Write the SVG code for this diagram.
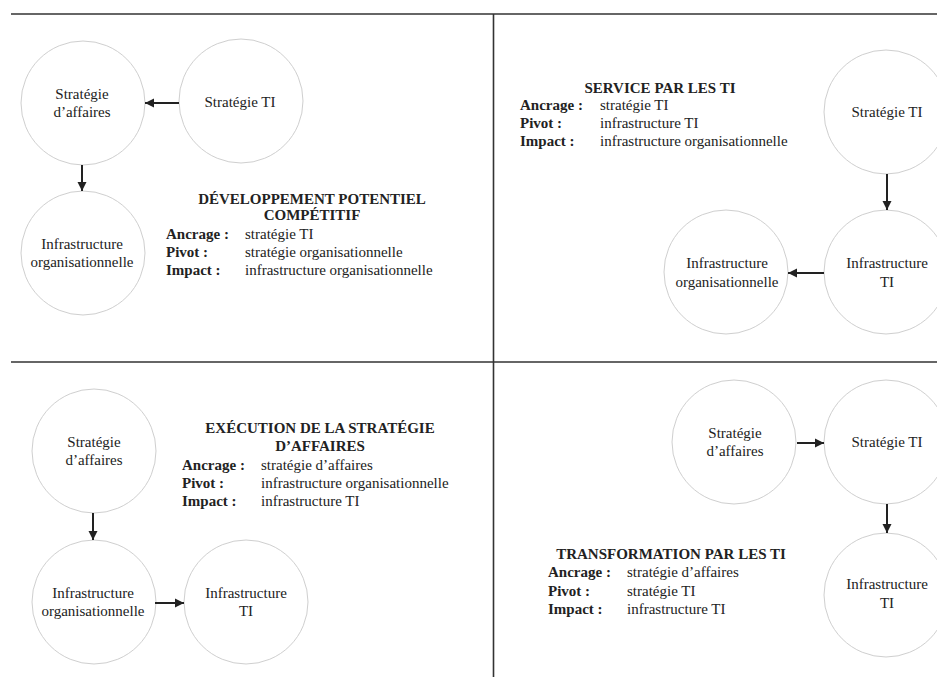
<svg xmlns="http://www.w3.org/2000/svg" width="937" height="677" viewBox="0 0 937 677">
<style>
  .bg { fill: #ffffff; }
  .frame { stroke: #333333; stroke-width: 1.6; fill: none; }
  .node circle { fill: #ffffff; stroke: #cfcfcf; stroke-width: 1; }
  .node text { font-family: "Liberation Serif", "Times New Roman", serif; font-size: 15px; fill: #222222; text-anchor: middle; }
  .conn line { stroke: #222222; stroke-width: 2; }
  .title { font-family: "Liberation Serif", "Times New Roman", serif; font-size: 15px; font-weight: bold; fill: #222222; text-anchor: middle; }
  .lbl { font-family: "Liberation Serif", "Times New Roman", serif; font-size: 15px; font-weight: bold; fill: #222222; }
  .val { font-family: "Liberation Serif", "Times New Roman", serif; font-size: 15px; fill: #222222; }
</style>
<defs>
  <marker id="ah" viewBox="0 0 10 10" refX="10" refY="5" markerWidth="9" markerHeight="10" markerUnits="userSpaceOnUse" orient="auto">
    <path d="M0,0 L10,5 L0,10 z" fill="#222222"/>
  </marker>
</defs>
<rect class="bg" x="0" y="0" width="937" height="677"/>

<g id="frame">
  <line class="frame" x1="11" y1="14" x2="937" y2="14"/>
  <line class="frame" x1="11" y1="362" x2="937" y2="362"/>
  <line class="frame" x1="493.5" y1="14" x2="493.5" y2="677"/>
</g>

<!-- Panel 1 -->
<g id="p1-strat-aff" class="node">
  <circle cx="83" cy="103" r="62"/>
  <text x="82" y="99">Stratégie</text>
  <text x="82" y="117">d’affaires</text>
</g>
<g id="p1-strat-ti" class="node">
  <circle cx="241" cy="101" r="62"/>
  <text x="240" y="107">Stratégie TI</text>
</g>
<g id="p1-infra-org" class="node">
  <circle cx="83" cy="253" r="62"/>
  <text x="82" y="249">Infrastructure</text>
  <text x="82" y="267">organisationnelle</text>
</g>
<g id="p1-text">
  <text class="title" x="312" y="204">DÉVELOPPEMENT POTENTIEL</text>
  <text class="title" x="312" y="220">COMPÉTITIF</text>
  <text class="lbl" x="166" y="239">Ancrage :</text>
  <text class="lbl" x="166" y="257">Pivot :</text>
  <text class="lbl" x="166" y="275">Impact :</text>
  <text class="val" x="245" y="239">stratégie TI</text>
  <text class="val" x="245" y="257">stratégie organisationnelle</text>
  <text class="val" x="245" y="275">infrastructure organisationnelle</text>
</g>

<!-- Panel 2 -->
<g id="p2-strat-ti" class="node">
  <circle cx="886" cy="112" r="62"/>
  <text x="887" y="117">Stratégie TI</text>
</g>
<g id="p2-infra-ti" class="node">
  <circle cx="886" cy="272" r="62"/>
  <text x="887" y="268">Infrastructure</text>
  <text x="887" y="287">TI</text>
</g>
<g id="p2-infra-org" class="node">
  <circle cx="726" cy="272" r="62"/>
  <text x="727" y="268">Infrastructure</text>
  <text x="727" y="287">organisationnelle</text>
</g>
<g id="p2-text">
  <text class="title" x="660" y="93">SERVICE PAR LES TI</text>
  <text class="lbl" x="520" y="110">Ancrage :</text>
  <text class="lbl" x="520" y="128">Pivot :</text>
  <text class="lbl" x="520" y="146">Impact :</text>
  <text class="val" x="600" y="110">stratégie TI</text>
  <text class="val" x="600" y="128">infrastructure TI</text>
  <text class="val" x="600" y="146">infrastructure organisationnelle</text>
</g>

<!-- Panel 3 -->
<g id="p3-strat-aff" class="node">
  <circle cx="94" cy="451" r="62"/>
  <text x="94" y="447">Stratégie</text>
  <text x="94" y="465">d’affaires</text>
</g>
<g id="p3-infra-org" class="node">
  <circle cx="94" cy="602" r="62"/>
  <text x="93" y="598">Infrastructure</text>
  <text x="93" y="616">organisationnelle</text>
</g>
<g id="p3-infra-ti" class="node">
  <circle cx="246" cy="602" r="62"/>
  <text x="246" y="598">Infrastructure</text>
  <text x="246" y="616">TI</text>
</g>
<g id="p3-text">
  <text class="title" x="320" y="433">EXÉCUTION DE LA STRATÉGIE</text>
  <text class="title" x="320" y="451">D’AFFAIRES</text>
  <text class="lbl" x="182" y="470">Ancrage :</text>
  <text class="lbl" x="182" y="488">Pivot :</text>
  <text class="lbl" x="182" y="506">Impact :</text>
  <text class="val" x="261" y="470">stratégie d’affaires</text>
  <text class="val" x="261" y="488">infrastructure organisationnelle</text>
  <text class="val" x="261" y="506">infrastructure TI</text>
</g>

<!-- Panel 4 -->
<g id="p4-strat-aff" class="node">
  <circle cx="734" cy="442" r="62"/>
  <text x="735" y="438">Stratégie</text>
  <text x="735" y="456">d’affaires</text>
</g>
<g id="p4-strat-ti" class="node">
  <circle cx="886" cy="442" r="62"/>
  <text x="887" y="447">Stratégie TI</text>
</g>
<g id="p4-infra-ti" class="node">
  <circle cx="886" cy="595" r="62"/>
  <text x="887" y="589">Infrastructure</text>
  <text x="887" y="608">TI</text>
</g>
<g id="p4-text">
  <text class="title" x="671" y="559">TRANSFORMATION PAR LES TI</text>
  <text class="lbl" x="548" y="577">Ancrage :</text>
  <text class="lbl" x="548" y="596">Pivot :</text>
  <text class="lbl" x="548" y="614">Impact :</text>
  <text class="val" x="627" y="577">stratégie d’affaires</text>
  <text class="val" x="627" y="596">stratégie TI</text>
  <text class="val" x="627" y="614">infrastructure TI</text>
</g>

<g id="connectors" class="conn">
  <line x1="179" y1="103" x2="145" y2="103" marker-end="url(#ah)"/>
  <line x1="82" y1="165" x2="82" y2="191" marker-end="url(#ah)"/>
  <line x1="887" y1="174" x2="887" y2="210" marker-end="url(#ah)"/>
  <line x1="824" y1="273" x2="788" y2="273" marker-end="url(#ah)"/>
  <line x1="93" y1="513" x2="93" y2="540" marker-end="url(#ah)"/>
  <line x1="155" y1="603" x2="184" y2="603" marker-end="url(#ah)"/>
  <line x1="797" y1="443" x2="824" y2="443" marker-end="url(#ah)"/>
  <line x1="887" y1="504" x2="887" y2="533" marker-end="url(#ah)"/>
</g>
</svg>
